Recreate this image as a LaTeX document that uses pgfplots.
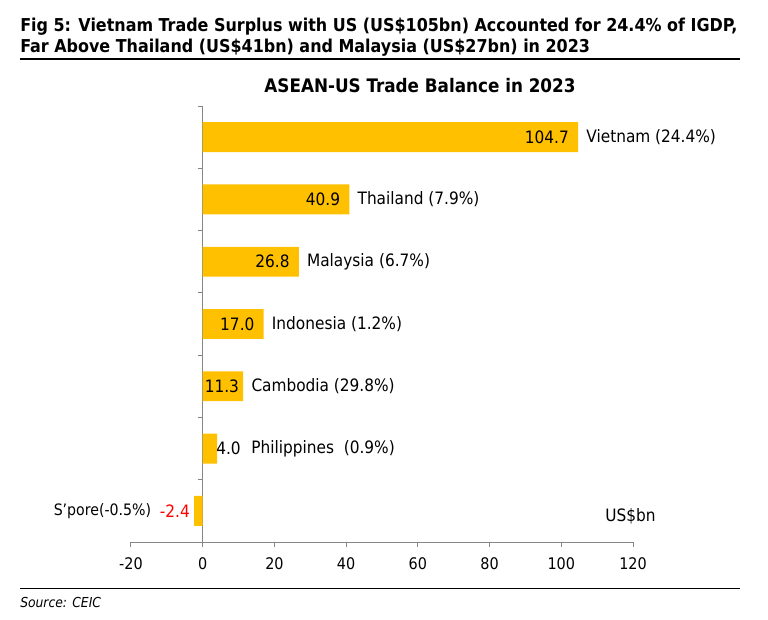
\documentclass[border=0pt]{standalone}
\usepackage{fontspec}
\setmainfont{DejaVu Sans Condensed}
\usepackage{pgfplots}
\pgfplotsset{compat=1.18}
\definecolor{bargold}{HTML}{FFC000}
\definecolor{axgray}{HTML}{868686}
\begin{document}
\begin{tikzpicture}
% page frame, 768x619 px at 0.75pt per px
\path (0,0) rectangle (576pt,464.25pt);
\node[anchor=base west, inner sep=0pt, font=\bfseries\fontsize{13.3}{15}\selectfont] at (15pt,440.25pt)
  {Fig 5: Vietnam Trade Surplus with US (US\$105bn) Accounted for 24.4\% of IGDP,};
\node[anchor=base west, inner sep=0pt, font=\bfseries\fontsize{13.3}{15}\selectfont] at (15pt,424.5pt)
  {Far Above Thailand (US\$41bn) and Malaysia (US\$27bn) in 2023};
\draw[line width=1.5pt] (15pt,420pt) -- (555pt,420pt);
\node[font=\bfseries\fontsize{14}{16}\selectfont] at (315pt,399.75pt) {ASEAN-US Trade Balance in 2023};
\draw[line width=0.75pt] (15pt,23.25pt) -- (555pt,23.25pt);
\node[anchor=base west, inner sep=0pt, font=\itshape\fontsize{10.3}{12}\selectfont] at (15pt,9pt) {Source: CEIC};

\begin{axis}[
  at={(98.25pt,57.75pt)}, anchor=south west,
  scale only axis, width=376.5pt, height=327pt,
  xmin=-20, xmax=120, ymin=-0.5, ymax=6.5,
  axis x line*=bottom, axis y line*=middle,
  hide obscured x ticks=false,
  xtick={-20,0,...,120},
  ytick={-0.5,0.5,...,6.5}, yticklabels={},
  tick align=outside, major tick length=3.75pt,
  axis line style={draw=axgray, line width=0.75pt},
  tick style={draw=axgray, line width=0.75pt},
  tick label style={font=\fontsize{12}{14}\selectfont},
  xticklabel style={yshift=-4.5pt},
  /pgf/number format/assume math mode=true,
  clip=false,
  every node near coord/.append style={font=\fontsize{12.8}{15}\selectfont, inner sep=0pt},
]
% bars
\addplot[xbar, bar width=0.48, fill=bargold, draw=none] coordinates {
  (104.7,6) (40.9,5) (26.8,4) (17.0,3) (11.3,2) (4.0,1) (-2.4,0)
};
% values inside bar ends
\addplot[draw=none, mark=none, forget plot, point meta=explicit symbolic,
  nodes near coords, nodes near coords style={anchor=east, xshift=-6.75pt}]
  coordinates {(104.7,6) [104.7] (40.9,5) [40.9] (26.8,4) [26.8] (17.0,3) [17.0]};
\addplot[draw=none, mark=none, forget plot, point meta=explicit symbolic,
  nodes near coords, nodes near coords style={anchor=east, xshift=-3pt}]
  coordinates {(11.3,2) [11.3]};
\addplot[draw=none, mark=none, forget plot, point meta=explicit symbolic,
  nodes near coords, nodes near coords style={anchor=west, xshift=-0.75pt}]
  coordinates {(4.0,1) [4.0]};
\addplot[draw=none, mark=none, forget plot, point meta=explicit symbolic,
  nodes near coords, nodes near coords style={anchor=east, xshift=-3pt, text=red}]
  coordinates {(-2.4,0) [-2.4]};
% country names
\addplot[draw=none, mark=none, forget plot, point meta=explicit symbolic,
  nodes near coords, nodes near coords style={anchor=west, xshift=6pt}]
  coordinates {(104.7,6) [Vietnam (24.4\%)] (40.9,5) [Thailand (7.9\%)]
    (26.8,4) [Malaysia (6.7\%)] (17.0,3) [Indonesia (1.2\%)] (11.3,2) [Cambodia (29.8\%)]};
\addplot[draw=none, mark=none, forget plot, point meta=explicit symbolic,
  nodes near coords, nodes near coords style={anchor=west, xshift=25.5pt}]
  coordinates {(4.0,1) [Philippines\ \ (0.9\%)]};
\addplot[draw=none, mark=none, forget plot, point meta=explicit symbolic,
  nodes near coords, nodes near coords style={anchor=east, xshift=-32pt,
    font=\fontsize{11.8}{14}\selectfont}]
  coordinates {(-2.4,0) [S'pore(-0.5\%)]};
\node[anchor=west, font=\fontsize{12.8}{15}\selectfont, inner sep=0pt] at (axis cs:112.2,-0.08) {US\$bn};
\end{axis}
\end{tikzpicture}
\end{document}
